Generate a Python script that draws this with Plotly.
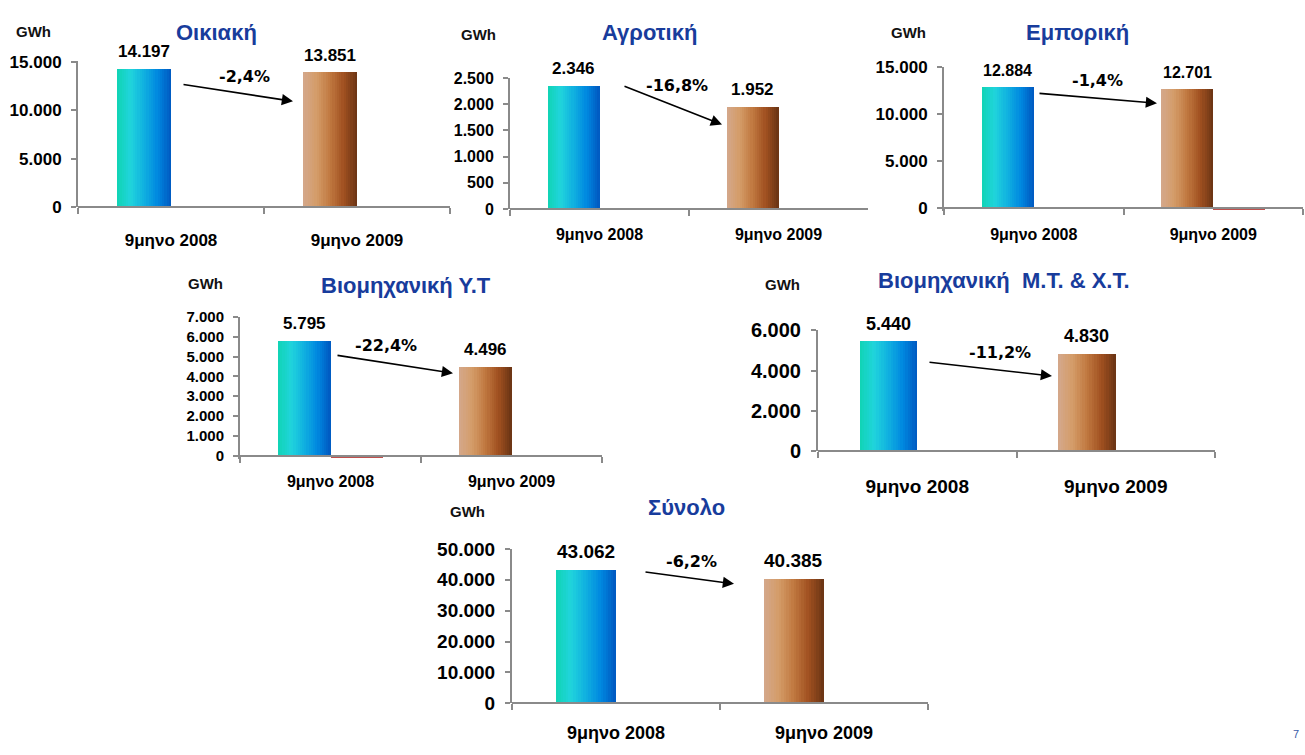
import plotly.graph_objects as go

# ---------------- data ----------------
categories = ["9μηνο 2008", "9μηνο 2009"]
titles = ["Οικιακή", "Αγροτική", "Εμπορική", "Βιομηχανική Υ.Τ",
          "Βιομηχανική  Μ.Τ. & Χ.Τ.", "Σύνολο"]
values_2008 = [14197, 2346, 12884, 5795, 5440, 43062]
values_2009 = [13851, 1952, 12701, 4496, 4830, 40385]
changes = ["-2,4%", "-16,8%", "-1,4%", "-22,4%", "-11,2%", "-6,2%"]
other_series = [[0, 0], [0, 0], [0, -200], [-100, 0], [0, 0], [0, 0]]
y_max = [15000, 2500, 15000, 7000, 6000, 50000]
y_dtick = [5000, 500, 5000, 1000, 2000, 10000]
unit = "GWh"
page_number = "7"

# ---------------- layout helpers (pixel geometry) ----------------
W, H = 1305, 755
def px(x): return x / W
def py(y): return 1 - y / H

# plot areas: (left, right, top, bottom=zero line) in pixels
areas = [(78, 450, 52, 202), (510, 868, 69, 204), (944, 1303, 58, 203),
         (240, 602, 315, 458), (818, 1215, 329, 453), (512, 928, 554, 713)]
tick_size = [17, 16, 17, 15, 20, 19]
cat_size = [17, 16, 16, 16, 19, 18]
val_size = [17, 17, 16, 17, 18, 19]
cat_dist = [35, 29, 30, 29, 37, 32]
title_pos = [(216, 22), (649, 22), (1077, 22), (406, 283), (1004, 278), (686, 511)]
unit_pos = [(33, 21), (478, 24), (909, 22), (205, 281), (782, 282), (467, 516)]
pct_pos = [(244, 67), (677, 77), (1097, 72), (386, 345), (1000, 352), (691, 567)]
arrows = [((182, 76), (293, 93)), ((623, 78), (722, 117)), ((1038, 85), (1157, 95)),
          ((336, 355), (453, 373)), ((928, 362), (1052, 376)), ((644, 578), (734, 590))]

grad_2008 = [(16, 212, 180), (32, 212, 220), (16, 176, 224), (0, 136, 224), (0, 88, 192)]
grad_2009 = [(212, 168, 140), (212, 156, 104), (192, 120, 64), (160, 80, 32), (106, 52, 20)]

def interp(stops, t):
    n = len(stops) - 1
    pos = t * n
    i = min(int(pos), n - 1)
    f = pos - i
    a, b = stops[i], stops[i + 1]
    c = [round(a[k] + (b[k] - a[k]) * f) for k in range(3)]
    return f"rgb({c[0]},{c[1]},{c[2]})"

BAR_W = 0.29
N_STRIPS = 24
FONT = "Liberation Sans, Arial, sans-serif"
AXIS_COLOR = "#8a8a8a"
TITLE_COLOR = "#183c9c"

fig = go.Figure()
annotations = []
layout_axes = {}

for k in range(6):
    sfx = "" if k == 0 else str(k + 1)
    xa, ya = "x" + sfx, "y" + sfx
    vals = [values_2008[k], values_2009[k]]
    sw = BAR_W / N_STRIPS
    for i in range(N_STRIPS):
        t = (i + 0.5) / N_STRIPS
        fig.add_trace(go.Bar(
            x=categories, y=vals, xaxis=xa, yaxis=ya,
            offset=-BAR_W + i * sw,
            width=sw * (1.3 if i < N_STRIPS - 1 else 1.0),
            marker=dict(color=[interp(grad_2008, t), interp(grad_2009, t)], line=dict(width=0)),
            hoverinfo="skip", showlegend=False))
    fig.add_trace(go.Bar(
        x=categories, y=other_series[k], xaxis=xa, yaxis=ya,
        offset=0, width=BAR_W, marker=dict(color="#c0504d", line=dict(width=0)),
        hoverinfo="skip", showlegend=False))

    l, r, t_, b = areas[k]
    rmin = min(0, min(other_series[k])) * 1.6
    ext = (b - t_) * (-rmin) / y_max[k]
    layout_axes["xaxis" + sfx] = dict(
        domain=[px(l), px(r)], anchor="free", position=py(b), type="category",
        range=[-0.5, 1.5],
        showline=True, linecolor=AXIS_COLOR, linewidth=2, ticks="outside",
        tickson="boundaries", ticklen=6, tickcolor=AXIS_COLOR, tickwidth=1.5,
        showgrid=False, zeroline=False,
        tickfont=dict(family=FONT, size=cat_size[k], color="#000", weight="bold"),
        ticklabelstandoff=max(0, cat_dist[k] - 6 - cat_size[k] // 2 - 4))
    layout_axes["yaxis" + sfx] = dict(
        domain=[py(b + ext), py(t_)], anchor=xa, range=[rmin, y_max[k] * 1.0005],
        tick0=0, dtick=y_dtick[k], tickformat=",d",
        showline=True, linecolor=AXIS_COLOR, linewidth=2, ticks="outside",
        ticklen=5, tickcolor=AXIS_COLOR, tickwidth=1.5,
        showgrid=False, zeroline=False,
        tickfont=dict(family=FONT, size=tick_size[k], color="#000", weight="bold"),
        ticklabelstandoff=6)

    for j, v in enumerate(vals):
        annotations.append(dict(
            x=j - BAR_W / 2, y=v, xref=xa, yref=ya, yanchor="bottom", yshift=6,
            text=f"{v:,}".replace(",", "."), showarrow=False,
            font=dict(family=FONT, size=val_size[k], color="#000", weight="bold")))
    annotations.append(dict(
        x=px(title_pos[k][0]), y=py(title_pos[k][1]), xref="paper", yref="paper",
        text=titles[k], showarrow=False, xanchor="center", yanchor="middle",
        font=dict(family=FONT, size=22, color=TITLE_COLOR, weight="bold")))
    annotations.append(dict(
        x=px(unit_pos[k][0]), y=py(unit_pos[k][1]), xref="paper", yref="paper",
        text=unit, showarrow=False, xanchor="center", yanchor="middle",
        font=dict(family=FONT, size=15, color="#111", weight="bold")))
    annotations.append(dict(
        x=px(pct_pos[k][0]), y=py(pct_pos[k][1]), xref="paper", yref="paper",
        text=changes[k], showarrow=False, xanchor="center", yanchor="middle",
        font=dict(family="DejaVu Sans, Verdana, sans-serif", size=16, color="#000", weight="bold")))
    (tx, ty), (hx, hy) = arrows[k]
    annotations.append(dict(
        x=px(hx), y=py(hy), xref="paper", yref="paper",
        ax=tx - hx, ay=ty - hy, axref="pixel", ayref="pixel",
        text="", showarrow=True, arrowhead=2, arrowsize=1.4, arrowwidth=1.6,
        arrowcolor="#000", standoff=0, startstandoff=0))

annotations.append(dict(
    x=px(1296), y=py(745), xref="paper", yref="paper", text=page_number,
    showarrow=False, xanchor="center", yanchor="middle",
    font=dict(family=FONT, size=11, color="#3a5ba8")))

fig.update_layout(
    width=W, height=H, margin=dict(l=0, r=0, t=0, b=0),
    paper_bgcolor="white", plot_bgcolor="white",
    barmode="overlay", bargap=0, separators=",.",
    showlegend=False, annotations=annotations, **layout_axes)

fig.write_html("out.html", config={"displayModeBar": False},
               post_script="document.body.style.margin='0';document.body.style.overflow='hidden';")
